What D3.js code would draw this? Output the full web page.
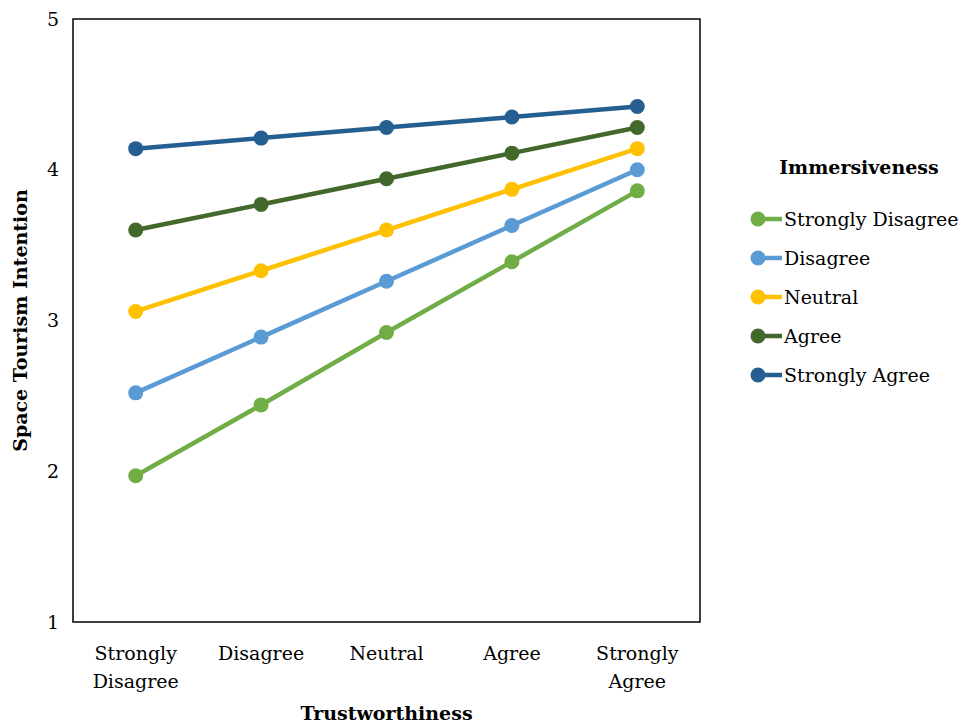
<!DOCTYPE html>
<html>
<head>
<meta charset="utf-8">
<script src="https://cdnjs.cloudflare.com/ajax/libs/d3/7.8.5/d3.min.js"></script>
<style>
  body { margin: 0; background: #fff; }
  svg text { font-family: "DejaVu Serif", "Liberation Serif", serif; fill: #000; }
</style>
</head>
<body>
<div id="chart"></div>
<script>
// chart data
var categories = ["Strongly Disagree", "Disagree", "Neutral", "Agree", "Strongly Agree"];
var catLines = [["Strongly", "Disagree"], ["Disagree"], ["Neutral"], ["Agree"], ["Strongly", "Agree"]];
var seriesNames = ["Strongly Disagree", "Disagree", "Neutral", "Agree", "Strongly Agree"];
var seriesColors = ["#70AD47", "#5B9BD5", "#FFC000", "#43682B", "#255E91"];
var strongDisagreeVals = [1.97, 2.44, 2.92, 3.39, 3.86];
var disagreeVals = [2.52, 2.89, 3.26, 3.63, 4.00];
var neutralVals = [3.06, 3.33, 3.60, 3.87, 4.14];
var agreeVals = [3.60, 3.77, 3.94, 4.11, 4.28];
var strongAgreeVals = [4.14, 4.21, 4.28, 4.35, 4.42];
var yTicks = [1, 2, 3, 4, 5];

var allVals = [strongDisagreeVals, disagreeVals, neutralVals, agreeVals, strongAgreeVals];

var svgWidth = 967;
var svgHeight = 728;
var margin = { top: 19, right: 267, bottom: 106, left: 73 };
var width = svgWidth - margin.left - margin.right;
var height = svgHeight - margin.top - margin.bottom;

var svg = d3.select("#chart")
  .append("svg")
  .attr("width", svgWidth)
  .attr("height", svgHeight);

var chartGroup = svg.append("g")
  .attr("transform", `translate(${margin.left}, ${margin.top})`);

var xScale = d3.scaleBand()
  .domain(categories)
  .range([0, width]);

var yScale = d3.scaleLinear()
  .domain([1, 5])
  .range([height, 0]);

// frame
chartGroup.append("rect")
  .attr("x", 0)
  .attr("y", 0)
  .attr("width", width)
  .attr("height", height)
  .attr("fill", "none")
  .attr("stroke", "#000")
  .attr("stroke-width", 1.5);

// y axis labels
var leftAxis = d3.axisLeft(yScale).tickValues(yTicks).tickSize(0).tickPadding(14).tickFormat(d3.format("d"));
var yAxis = chartGroup.append("g").call(leftAxis);
yAxis.select(".domain").remove();
yAxis.selectAll("text")
  .attr("font-size", 19)
  .style("font-family", "DejaVu Serif, serif");

// x axis labels
var bottomAxis = d3.axisBottom(xScale).tickSize(0).tickPadding(0).tickFormat("");
var xAxis = chartGroup.append("g")
  .attr("transform", `translate(0, ${height})`)
  .call(bottomAxis);
xAxis.select(".domain").remove();
xAxis.selectAll(".tick").each(function(d, i) {
  var t = d3.select(this).append("text")
    .attr("text-anchor", "middle")
    .attr("font-size", 19)
    .attr("y", 38);
  catLines[i].forEach(function(line, j) {
    t.append("tspan").attr("x", 0).attr("dy", j === 0 ? 0 : 28).text(line);
  });
});

// lines + markers
var line = d3.line()
  .x((d, i) => xScale(categories[i]) + xScale.bandwidth() / 2)
  .y(d => yScale(d));

allVals.forEach(function(vals, s) {
  chartGroup.append("path")
    .datum(vals)
    .attr("d", line)
    .attr("fill", "none")
    .attr("stroke", seriesColors[s])
    .attr("stroke-width", 4.5);
  chartGroup.selectAll(".dot" + s)
    .data(vals)
    .enter()
    .append("circle")
    .attr("cx", (d, i) => xScale(categories[i]) + xScale.bandwidth() / 2)
    .attr("cy", d => yScale(d))
    .attr("r", 7.5)
    .attr("fill", seriesColors[s]);
});

// axis titles
svg.append("text")
  .attr("transform", `translate(${margin.left + width / 2}, 720)`)
  .attr("text-anchor", "middle")
  .attr("font-size", 19)
  .attr("font-weight", "bold")
  .text("Trustworthiness");

svg.append("text")
  .attr("transform", `translate(27, ${margin.top + height / 2}) rotate(-90)`)
  .attr("text-anchor", "middle")
  .attr("font-size", 19)
  .attr("font-weight", "bold")
  .text("Space Tourism Intention");

// legend
var legend = svg.append("g").attr("transform", "translate(758, 0)");
legend.append("text")
  .attr("x", 101)
  .attr("y", 174)
  .attr("text-anchor", "middle")
  .attr("font-size", 19)
  .attr("font-weight", "bold")
  .text("Immersiveness");

seriesNames.forEach(function(name, s) {
  var yy = 219 + s * 39;
  legend.append("line")
    .attr("x1", 0).attr("x2", 24)
    .attr("y1", yy).attr("y2", yy)
    .attr("stroke", seriesColors[s])
    .attr("stroke-width", 4.5);
  legend.append("circle")
    .attr("cx", 0).attr("cy", yy).attr("r", 7.5)
    .attr("fill", seriesColors[s]);
  legend.append("text")
    .attr("x", 26)
    .attr("y", yy + 7)
    .attr("font-size", 19)
    .text(name);
});
</script>
</body>
</html>
